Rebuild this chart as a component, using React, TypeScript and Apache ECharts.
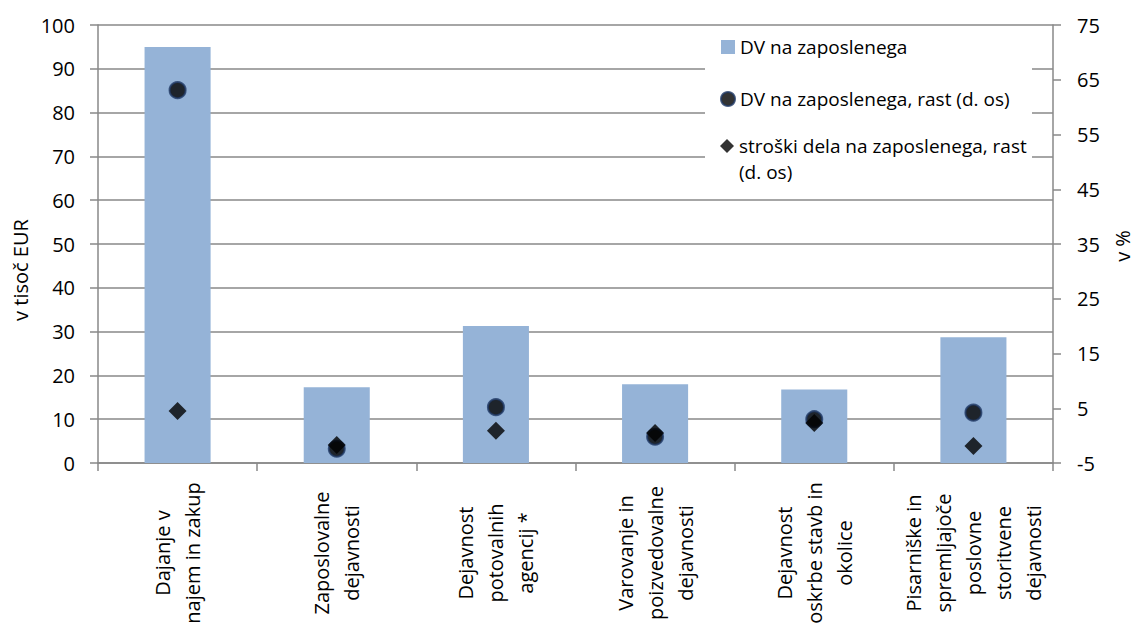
import React, { useEffect, useRef } from "react";
import * as echarts from "echarts";

const categories = [
  "Dajanje v\nnajem in zakup",
  "Zaposlovalne\ndejavnosti",
  "Dejavnost\npotovalnih\nagencij *",
  "Varovanje in\npoizvedovalne\ndejavnosti",
  "Dejavnost\noskrbe stavb in\nokolice",
  "Pisarniške in\nspremljajoče\nposlovne\nstoritvene\ndejavnosti",
];
const dvPerEmployee = [95, 17.3, 31.3, 18.0, 16.8, 28.7];
const dvGrowth = [63.1, -2.4, 5.2, -0.2, 3.0, 4.2];
const labourCostGrowth = [4.5, -1.7, 0.9, 0.5, 2.3, -1.9];

const seriesNames = [
  "DV na zaposlenega",
  "DV na zaposlenega, rast (d. os)",
  "stroški dela na zaposlenega, rast",
];
const legendContinuation = "(d. os)";

const FONT = "Open Sans";
const GRID_COLOR = "#888888";

export default function App() {
  const ref = useRef<HTMLDivElement>(null);
  useEffect(() => {
    if (!ref.current) return;
    const chart = echarts.init(ref.current, null, { renderer: "svg" });
    const legendText = { fontFamily: FONT, fontSize: 19, color: "#000", lineHeight: 24 };
    chart.setOption({
      animation: false,
      textStyle: { fontFamily: FONT, color: "#000" },
      grid: { left: 98, right: 81, top: 25, bottom: 164 },
      legend: [
        {
          orient: "vertical",
          left: 720,
          top: 35,
          padding: 0,
          itemGap: 28,
          itemWidth: 14,
          itemHeight: 14,
          textStyle: legendText,
          data: [
            { name: seriesNames[0], icon: "rect" },
            { name: seriesNames[1], icon: "circle" },
          ],
        },
        {
          orient: "vertical",
          left: 720,
          top: 134,
          padding: 0,
          itemWidth: 14,
          itemHeight: 14,
          textStyle: legendText,
          data: [{ name: seriesNames[2], icon: "diamond" }],
        },
      ],
      xAxis: {
        type: "category",
        data: categories,
        axisLine: { lineStyle: { color: GRID_COLOR, width: 1.5 } },
        axisTick: { show: true, length: 8, lineStyle: { color: GRID_COLOR, width: 1.5 } },
        axisLabel: {
          interval: 0,
          rotate: 90,
          align: "center",
          verticalAlign: "middle",
          margin: 90,
          fontFamily: FONT,
          fontSize: 20,
          lineHeight: 30,
          color: "#000",
        },
      },
      yAxis: [
        {
          type: "value",
          min: 0,
          max: 100,
          interval: 10,
          axisLine: { show: true, lineStyle: { color: GRID_COLOR, width: 1.5 } },
          axisTick: { show: true, length: 8, lineStyle: { color: GRID_COLOR, width: 1.5 } },
          splitLine: { show: true, lineStyle: { color: GRID_COLOR, width: 1.5 } },
          axisLabel: { margin: 23, fontFamily: FONT, fontSize: 20, color: "#000" },
        },
        {
          type: "value",
          min: -5,
          max: 75,
          interval: 10,
          position: "right",
          axisLine: { show: true, lineStyle: { color: GRID_COLOR, width: 1.5 } },
          axisTick: { show: true, length: 8, lineStyle: { color: GRID_COLOR, width: 1.5 } },
          splitLine: { show: false },
          axisLabel: { margin: 24, fontFamily: FONT, fontSize: 20, color: "#000" },
        },
      ],
      graphic: [
        {
          type: "rect",
          z: 1,
          shape: { x: 705, y: 30, width: 327, height: 150 },
          style: { fill: "#fff" },
        },
        {
          type: "text",
          z: 5,
          x: 739,
          y: 172,
          style: {
            text: legendContinuation,
            fontFamily: FONT,
            fontSize: 19,
            fill: "#000",
            align: "left",
            verticalAlign: "middle",
          },
        },
        {
          type: "text",
          x: 20,
          y: 270,
          rotation: Math.PI / 2,
          style: {
            text: "v tisoč EUR",
            fontFamily: FONT,
            fontSize: 20,
            fill: "#000",
            align: "center",
            verticalAlign: "middle",
          },
        },
        {
          type: "text",
          x: 1122,
          y: 246,
          rotation: Math.PI / 2,
          style: {
            text: "v %",
            fontFamily: FONT,
            fontSize: 20,
            fill: "#000",
            align: "center",
            verticalAlign: "middle",
          },
        },
      ],
      series: [
        {
          name: seriesNames[0],
          type: "bar",
          data: dvPerEmployee,
          barWidth: "41.5%",
          itemStyle: { color: "#95b3d7" },
          yAxisIndex: 0,
          z: 2,
        },
        {
          name: seriesNames[1],
          type: "scatter",
          data: dvGrowth,
          yAxisIndex: 1,
          symbol: "circle",
          symbolSize: 16,
          itemStyle: { color: "#000", borderColor: "#1f3864", borderWidth: 2 },
          z: 3,
        },
        {
          name: seriesNames[2],
          type: "scatter",
          data: labourCostGrowth,
          yAxisIndex: 1,
          symbol: "diamond",
          symbolSize: [18, 18],
          itemStyle: { color: "#000" },
          z: 4,
        },
      ],
    });
    return () => chart.dispose();
  }, []);
  return (
    <div
      ref={ref}
      style={{ position: "absolute", left: 0, top: 0, width: 1134, height: 627 }}
    />
  );
}
